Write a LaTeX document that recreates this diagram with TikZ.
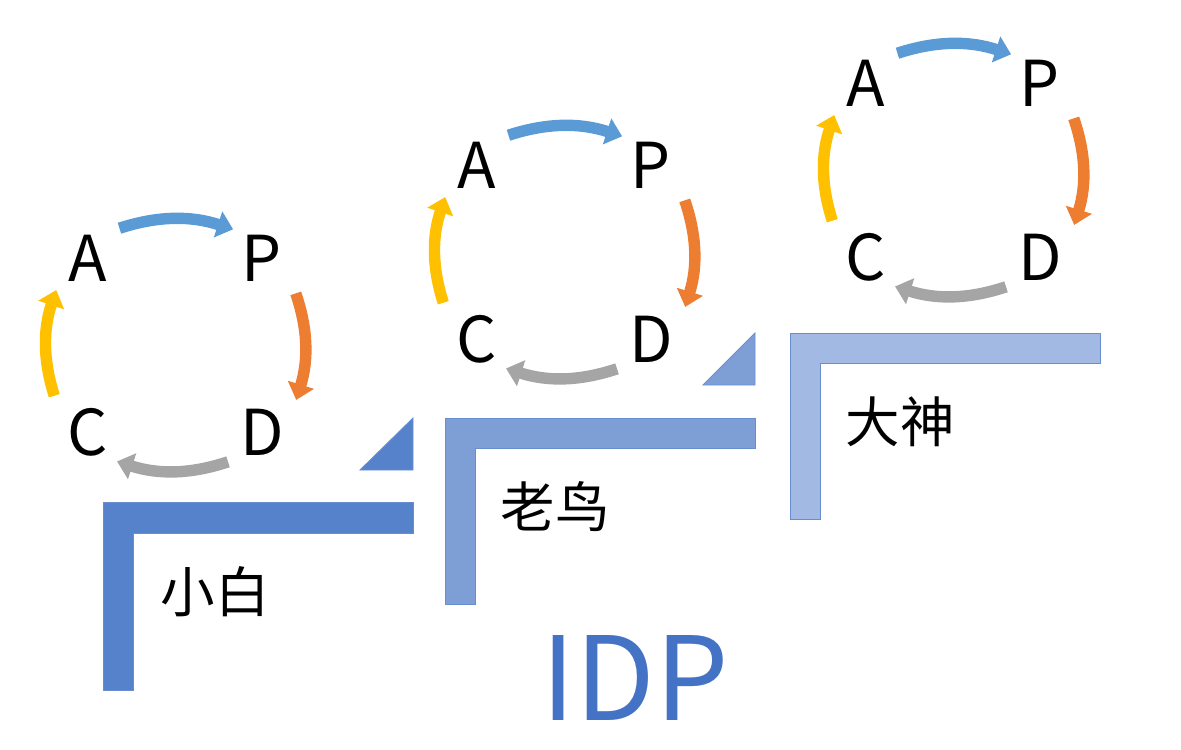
\documentclass[tikz,border=0pt]{standalone}
\usepackage{fontspec}
\setmainfont{Noto Sans CJK SC}
\usetikzlibrary{arrows.meta}
\definecolor{pdcablue}{HTML}{5B9BD5}
\definecolor{pdcaorange}{HTML}{ED7D31}
\definecolor{pdcagray}{HTML}{A5A5A5}
\definecolor{pdcagold}{HTML}{FFC000}
\definecolor{stepdark}{HTML}{5682CB}
\definecolor{stepmid}{HTML}{7E9ED6}
\definecolor{steplight}{HTML}{A2BAE3}
\definecolor{idpblue}{HTML}{4472C4}

\begin{document}
\begin{tikzpicture}[x=0.02cm, y=-0.02cm]
    \tikzstyle{letter} = [font=\fontsize{36}{40}\selectfont, inner sep=2pt]
    \tikzstyle{rank} = [font=\fontsize{31}{36}\selectfont]
    \tikzstyle{cyc} = [line width=6.5pt, -{Triangle[length=9pt, width=15pt]}, shorten <=5pt, shorten >=3pt]
    \tikzstyle{stair} = [draw=idpblue!80, line width=0.5pt]

    \useasboundingbox (0,0) rectangle (1181,750);

    % stairs
    \fill[stair, fill=stepdark] (103,502) -- (413,502) -- (413,533) -- (133,533) -- (133,690) -- (103,690) -- cycle;
    \fill[stair, fill=stepdark] (360,470) -- (413,418) -- (413,470) -- cycle;
    \fill[stair, fill=stepmid] (445,418) -- (755,418) -- (755,448) -- (475,448) -- (475,604) -- (445,604) -- cycle;
    \fill[stair, fill=stepmid] (703,385) -- (755,333) -- (755,385) -- cycle;
    \fill[stair, fill=steplight] (790,333) -- (1100,333) -- (1100,363) -- (820,363) -- (820,519) -- (790,519) -- cycle;

    \node (xiaobai) [rank] at (215,592) {小白};
    \node (laoniao) [rank] at (555,507) {老鸟};
    \node (dashen) [rank] at (900,422) {大神};
    \node (idp) [font=\fontsize{66}{70}\selectfont, text=idpblue] at (635,678) {IDP};

    % PDCA cycles
    \foreach \i/\x/\y in {1/88/258, 2/477/165, 3/866/83} {
      \node (A\i) [letter] at (\x,\y) {A};
      \node (P\i) [letter] at (\x+174,\y) {P};
      \node (C\i) [letter] at (\x,\y+174) {C};
      \node (D\i) [letter] at (\x+174,\y+174) {D};
      \draw[cyc, pdcablue] (A\i.north east) to[bend left=18] (P\i.north west);
      \draw[cyc, pdcaorange] ([xshift=4pt]P\i.south east) to[bend left=18] ([xshift=4pt]D\i.north east);
      \draw[cyc, pdcagray] (D\i.south west) to[bend left=18] (C\i.south east);
      \draw[cyc, pdcagold] ([xshift=-4pt]C\i.north west) to[bend left=18] ([xshift=-4pt]A\i.south west);
    }
\end{tikzpicture}
\end{document}
